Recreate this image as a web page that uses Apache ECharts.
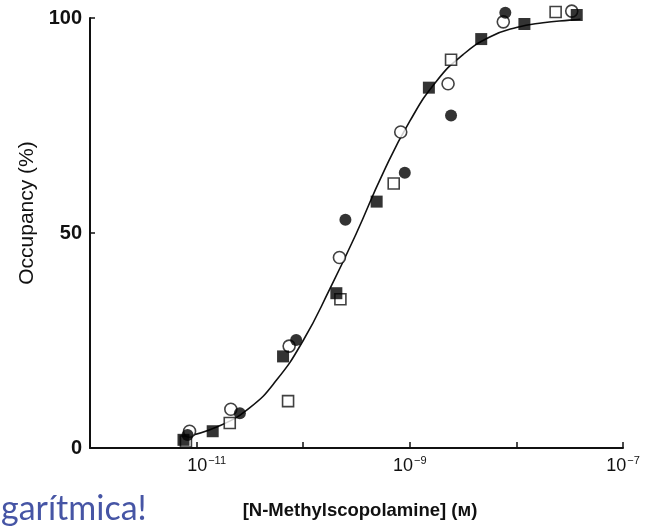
<!DOCTYPE html>
<html>
<head>
<meta charset="utf-8">
<title>N-Methylscopolamine occupancy</title>
<script src="https://cdn.jsdelivr.net/npm/echarts@6/dist/echarts.min.js"></script>
<style>
  html, body { margin: 0; padding: 0; background: #fff; }
  #chart { width: 660px; height: 527px; }
</style>
</head>
<body>
<div id="chart"></div>
<script>
// x values are log10 of the molar concentration, y values are occupancy in %
const filledCircleLogM = [-11.085, -10.594, -10.066, -9.604, -9.047, -8.613, -8.104];
const filledCircleOcc  = [3.0, 8.1, 25.1, 53.1, 64.0, 77.3, 101.2];

const openCircleLogM = [-11.066, -10.679, -10.132, -9.660, -9.085, -8.641, -8.123, -7.481];
const openCircleOcc  = [3.9, 9.0, 23.7, 44.3, 73.5, 84.7, 99.1, 101.6];

const filledSquareLogM = [-11.123, -10.849, -10.189, -9.689, -9.311, -8.821, -8.330, -7.925, -7.434];
const filledSquareOcc  = [1.9, 3.9, 21.3, 36.0, 57.3, 83.8, 95.1, 98.6, 100.7];

const openSquareLogM = [-11.10, -10.689, -10.142, -9.651, -9.151, -8.613, -7.632];
const openSquareOcc  = [1.5, 5.8, 10.9, 34.6, 61.5, 90.3, 101.4];

// fitted curve
const curveLogM = [-11.13, -10.8, -10.5, -10.25, -10.0, -9.75, -9.5, -9.25, -9.0, -8.75, -8.5, -8.25, -8.0, -7.75, -7.5, -7.4];
const curveOcc  = [2.5, 5.0, 9.4, 15.8, 25.0, 37.0, 50.0, 64.0, 76.0, 85.3, 91.5, 95.6, 97.8, 98.9, 99.5, 99.7];

const yTicks = [0, 50, 100];
const xLabelExps = [-11, -9, -7];

const ink = '#111111';

function pairs(xs, ys) {
  return xs.map((x, i) => [x, ys[i]]);
}

const chart = echarts.init(document.getElementById('chart'));

const option = {
  backgroundColor: '#ffffff',
  animation: false,
  grid: { left: 90, right: 37, top: 18, bottom: 79 },
  xAxis: {
    type: 'value',
    min: -12,
    max: -7,
    interval: 1,
    axisLine: { show: true, lineStyle: { color: ink, width: 2 } },
    axisTick: { show: true, inside: true, length: 6, lineStyle: { color: ink, width: 1.5 } },
    splitLine: { show: false },
    axisLabel: {
      margin: 7,
      showMinLabel: true,
      showMaxLabel: true,
      formatter: function (v) {
        if (xLabelExps.indexOf(v) < 0) return '';
        // the 10^-11 label sits a little right of its tick in the original
        const base = v === -11 ? 'bp' : 'b';
        return '{' + base + '|10}{s|\u2212' + Math.abs(v) + '}';
      },
      rich: {
        b: { fontFamily: 'Liberation Sans', fontSize: 18, color: ink, lineHeight: 20, verticalAlign: 'bottom' },
        bp: { fontFamily: 'Liberation Sans', fontSize: 18, color: ink, lineHeight: 20, verticalAlign: 'bottom', padding: [0, 0, 0, 20] },
        s: { fontFamily: 'Liberation Sans', fontSize: 11, color: ink, lineHeight: 20, verticalAlign: 'top', padding: [0, 0, 0, 1] }
      }
    }
  },
  yAxis: {
    type: 'value',
    min: 0,
    max: 100,
    interval: 50,
    axisLine: { show: true, lineStyle: { color: ink, width: 2 } },
    axisTick: { show: true, inside: true, length: 5, lineStyle: { color: ink, width: 1.5 } },
    splitLine: { show: false },
    axisLabel: {
      margin: 8,
      fontFamily: 'Liberation Sans',
      fontWeight: 'bold',
      fontSize: 20,
      color: ink,
      formatter: function (v) { return yTicks.indexOf(v) >= 0 ? String(v) : ''; }
    }
  },
  series: [
    {
      name: 'fit',
      type: 'line',
      data: pairs(curveLogM, curveOcc),
      smooth: true,
      showSymbol: false,
      symbol: 'none',
      clip: false,
      lineStyle: { color: ink, width: 1.6 },
      z: 2
    },
    {
      name: 'open squares',
      type: 'scatter',
      data: pairs(openSquareLogM, openSquareOcc),
      symbol: 'rect',
      symbolSize: 11,
      clip: false,
      itemStyle: { color: '#ffffff', borderColor: ink, borderWidth: 1.6 },
      z: 3
    },
    {
      name: 'open circles',
      type: 'scatter',
      data: pairs(openCircleLogM, openCircleOcc),
      symbol: 'circle',
      symbolSize: 12,
      clip: false,
      itemStyle: { color: '#ffffff', borderColor: ink, borderWidth: 1.6 },
      z: 4
    },
    {
      name: 'filled squares',
      type: 'scatter',
      data: pairs(filledSquareLogM, filledSquareOcc),
      symbol: 'rect',
      symbolSize: 12,
      clip: false,
      itemStyle: { color: '#000000' },
      z: 5
    },
    {
      name: 'filled circles',
      type: 'scatter',
      data: pairs(filledCircleLogM, filledCircleOcc),
      symbol: 'circle',
      symbolSize: 12,
      clip: false,
      itemStyle: { color: '#000000' },
      z: 5
    }
  ],
  graphic: [
    {
      type: 'text',
      x: 27,
      y: 213,
      rotation: Math.PI / 2,
      style: {
        text: 'Occupancy (%)',
        fontFamily: 'Liberation Sans',
        fontSize: 21,
        fill: ink,
        align: 'center',
        verticalAlign: 'middle'
      }
    },
    {
      type: 'text',
      x: 360,
      y: 511,
      style: {
        text: '[N-Methylscopolamine] (\u1D0D)',
        fontFamily: 'Liberation Sans',
        fontWeight: 'bold',
        fontSize: 18.5,
        fill: ink,
        align: 'center',
        verticalAlign: 'middle'
      }
    },
    {
      type: 'text',
      x: 1,
      y: 526,
      style: {
        text: 'garítmica!',
        fontFamily: 'Lato',
        fontSize: 34,
        fill: '#4655a5',
        align: 'left',
        verticalAlign: 'bottom'
      }
    }
  ]
};

chart.setOption(option);
</script>
</body>
</html>
